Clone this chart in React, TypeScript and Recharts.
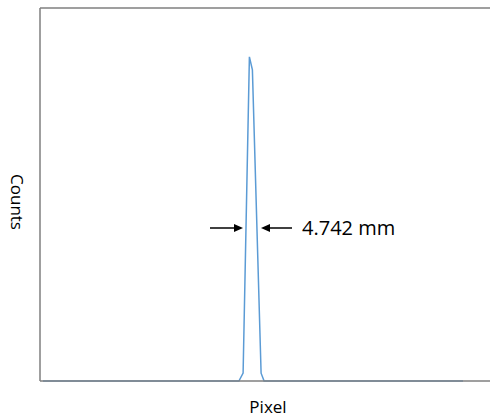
import { LineChart, Line, XAxis, YAxis, ReferenceLine } from 'recharts';

// detector pixel index and measured counts
const pixels = [1, 66.3, 67.7, 69.8, 70.8, 73.7, 74.7, 141];
const counts = [0, 0, 21, 869, 834, 21, 0, 0];

const xDomain = [0, 150];
const yDomain = [0, 1000];
const widthLabel = '4.742 mm';

const data = pixels.map((p, i) => ({ pixel: p, counts: counts[i] }));

const axisColor = '#7f7f7f';
const font = '"Open Sans", "Noto Sans", sans-serif';

export default function App() {
    return (
        <div style={{ position: 'absolute', left: 0, top: 0, width: 491, height: 418, background: '#fff', fontFamily: font }}>
            <LineChart width={491} height={418} data={data} margin={{ top: 8, right: 1, bottom: 36, left: 39 }}>
                <XAxis
                    dataKey="pixel"
                    type="number"
                    domain={xDomain}
                    tick={false}
                    tickLine={false}
                    height={1}
                    axisLine={{ stroke: axisColor, strokeWidth: 1.5 }}
                />
                <YAxis
                    type="number"
                    domain={yDomain}
                    tick={false}
                    tickLine={false}
                    width={1}
                    axisLine={{ stroke: axisColor, strokeWidth: 1.5 }}
                />
                <ReferenceLine
                    segment={[
                        { x: xDomain[0], y: yDomain[1] },
                        { x: xDomain[1], y: yDomain[1] },
                    ]}
                    stroke={axisColor}
                    strokeWidth={1.5}
                />
                <Line
                    dataKey="counts"
                    stroke="#5B9BD5"
                    strokeWidth={1.5}
                    dot={false}
                    type="linear"
                    isAnimationActive={false}
                />
            </LineChart>

            {/* width annotation */}
            <svg width={491} height={418} style={{ position: 'absolute', left: 0, top: 0, pointerEvents: 'none' }}>
                <line x1={210} y1={228} x2={236} y2={228} stroke="#000" strokeWidth={1.5} />
                <polygon points="243,228 234,224 234,232" fill="#000" />
                <line x1={268} y1={228} x2={292} y2={228} stroke="#000" strokeWidth={1.5} />
                <polygon points="261,228 270,224 270,232" fill="#000" />
            </svg>
            <div style={{ position: 'absolute', left: 302, top: 215, fontSize: 20, color: '#000', lineHeight: '26px' }}>
                {widthLabel}
            </div>

            <div style={{ position: 'absolute', left: 0, width: 536, top: 396, textAlign: 'center', fontSize: 17, color: '#000', lineHeight: '22px' }}>
                Pixel
            </div>
            <div
                style={{
                    position: 'absolute',
                    left: 17,
                    top: 202,
                    transform: 'translate(-50%, -50%) rotate(90deg)',
                    fontSize: 17,
                    color: '#000',
                    lineHeight: '22px',
                    whiteSpace: 'nowrap',
                }}
            >
                Counts
            </div>
        </div>
    );
}
